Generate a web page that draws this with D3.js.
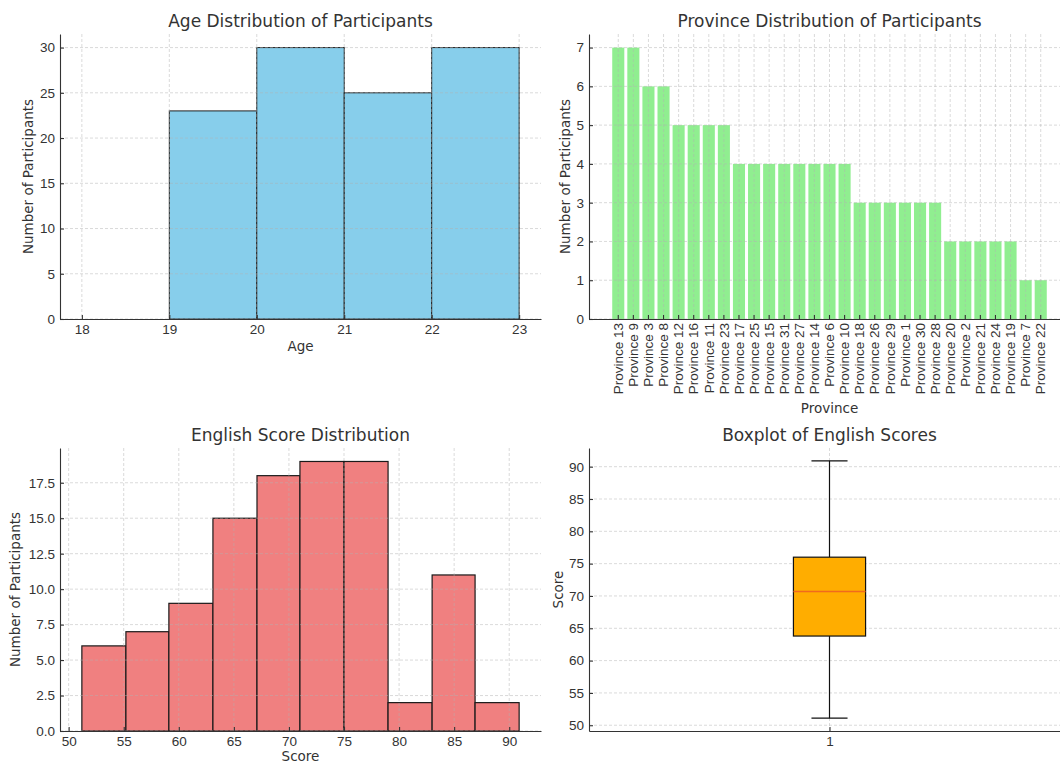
<!DOCTYPE html>
<html>
<head>
<meta charset="utf-8">
<script src="https://cdn.jsdelivr.net/npm/d3@7"></script>
<style>
body { margin: 0; background: #fff; }
svg { display: block; }
.grid line { stroke: #b0b0b0; stroke-opacity: 0.6; stroke-dasharray: 3,2; stroke-width: 0.8; }
.axis path, .axis line { stroke: #333; stroke-width: 1.1; }
.axis text { fill: #333; }
.title { font-size: 17px; fill: #333; text-anchor: middle; }
.label { font-size: 13.5px; fill: #333; text-anchor: middle; }
</style>
</head>
<body>
<div id="chart"></div>
<script>
// age histogram
var ageEdges = [18, 19, 20, 21, 22, 23];
var ageCounts = [0, 23, 30, 25, 30];
var ageTicks = [18, 19, 20, 21, 22, 23];
var ageYTicks = [0, 5, 10, 15, 20, 25, 30];

// province bars
var provinces = ["Province 13", "Province 9", "Province 3", "Province 8", "Province 12",
	"Province 16", "Province 11", "Province 23", "Province 17", "Province 25", "Province 15",
	"Province 31", "Province 27", "Province 14", "Province 6", "Province 10", "Province 18",
	"Province 26", "Province 29", "Province 1", "Province 30", "Province 28", "Province 20",
	"Province 2", "Province 21", "Province 24", "Province 19", "Province 7", "Province 22"];
var provinceCounts = [7, 7, 6, 6, 5, 5, 5, 5, 4, 4, 4, 4, 4, 4, 4, 4, 3, 3, 3, 3, 3, 3, 2, 2, 2, 2, 2, 1, 1];
var provinceYTicks = [0, 1, 2, 3, 4, 5, 6, 7];

// english score histogram
var scoreEdges = [51.2, 55.2, 59.1, 63.1, 67.1, 71.0, 75.0, 79.0, 83.0, 86.9, 90.9];
var scoreCounts = [6, 7, 9, 15, 18, 19, 19, 2, 11, 2];
var scoreTicks = [50, 55, 60, 65, 70, 75, 80, 85, 90];
var scoreYTicks = [0, 2.5, 5, 7.5, 10, 12.5, 15, 17.5];

// boxplot: low whisker, q1, median, q3, high whisker
var boxStats = [51.1, 63.8, 70.7, 76.0, 90.9];
var boxYTicks = [50, 55, 60, 65, 70, 75, 80, 85, 90];

var width = 1060;
var height = 764;
var tickFont = 13.5;

var svg = d3.select("#chart").append("svg")
	.attr("width", width)
	.attr("height", height)
	.style("font-family", "'DejaVu Sans', sans-serif");

svg.append("rect").attr("width", width).attr("height", height).attr("fill", "#fff");

// matplotlib style 5% margins
function pad(lo, hi) {
	var m = (hi - lo) * 0.05;
	return [lo - m, hi + m];
}

// one panel: box = [left, top, right, bottom]
function panel(box, opt) {
	var g = svg.append("g");
	var x = opt.x.range([box[0], box[2]]);
	var y = d3.scaleLinear().domain(opt.yDomain).range([box[3], box[1]]);

	opt.draw(g, x, y);

	// grid sits on top of the patches, as in matplotlib
	var grid = g.append("g").attr("class", "grid");
	grid.selectAll(".gx")
		.data(opt.xGrid)
		.enter().append("line")
			.attr("x1", function(d) { return x(d); })
			.attr("x2", function(d) { return x(d); })
			.attr("y1", box[1])
			.attr("y2", box[3]);
	grid.selectAll(".gy")
		.data(opt.yTicks)
		.enter().append("line")
			.attr("x1", box[0])
			.attr("x2", box[2])
			.attr("y1", function(d) { return y(d); })
			.attr("y2", function(d) { return y(d); });

	if (opt.drawTop) opt.drawTop(g, x, y);

	var xAxis = opt.xAxis(x).tickSizeInner(-4).tickSizeOuter(0).tickPadding(5);
	var gx = g.append("g")
		.attr("class", "axis")
		.attr("transform", "translate(0," + box[3] + ")")
		.call(xAxis);
	gx.selectAll("text").attr("font-size", tickFont);
	if (opt.rotate) {
		gx.selectAll("text")
			.attr("y", 0)
			.attr("x", -4)
			.attr("dy", "0.35em")
			.attr("transform", "rotate(-90)")
			.style("text-anchor", "end");
	}

	var gy = g.append("g")
		.attr("class", "axis")
		.attr("transform", "translate(" + box[0] + ",0)")
		.call(d3.axisLeft(y).tickValues(opt.yTicks).tickFormat(opt.yFormat)
			.tickSizeInner(-4).tickSizeOuter(0).tickPadding(5));
	gy.selectAll("text").attr("font-size", tickFont);

	var cx = (box[0] + box[2]) / 2;
	g.append("text")
		.attr("class", "title")
		.attr("x", cx)
		.attr("y", box[1] - 7)
		.text(opt.title);

	g.append("text")
		.attr("class", "label")
		.attr("x", cx)
		.attr("y", opt.xLabelY)
		.attr("dy", "0.35em")
		.text(opt.xLabel);

	g.append("text")
		.attr("class", "label")
		.attr("transform", "translate(" + opt.yLabelX + "," + ((box[1] + box[3]) / 2) + ") rotate(-90)")
		.attr("dy", "0.35em")
		.text(opt.yLabel);
}

// - Age Distribution -
var ageBins = ageCounts.map(function(c, i) { return { x0: ageEdges[i], x1: ageEdges[i + 1], n: c }; });

panel([60, 34, 541, 319], {
	x: d3.scaleLinear().domain(pad(d3.min(ageEdges), d3.max(ageEdges))),
	yDomain: [0, d3.max(ageCounts) * 1.05],
	xGrid: ageTicks,
	yTicks: ageYTicks,
	yFormat: d3.format("d"),
	xAxis: function(x) { return d3.axisBottom(x).tickValues(ageTicks).tickFormat(d3.format("d")); },
	title: "Age Distribution of Participants",
	xLabel: "Age",
	xLabelY: 346,
	yLabel: "Number of Participants",
	yLabelX: 28,
	draw: function(g, x, y) {
		g.selectAll(".age-bar")
			.data(ageBins)
			.enter().append("rect")
				.attr("x", function(d) { return x(d.x0); })
				.attr("y", function(d) { return y(d.n); })
				.attr("width", function(d) { return x(d.x1) - x(d.x0); })
				.attr("height", function(d) { return y(0) - y(d.n); })
				.attr("fill", "#87ceeb")
				.attr("stroke", "#222")
				.attr("stroke-width", 1);
	}
});

// - Province Distribution -
// band scale padded like matplotlib: bar width 0.8, 5% margins
var provBand = d3.scaleBand().domain(provinces).paddingInner(0.2).paddingOuter(0.1 + 1.44);

panel([589, 34, 1070, 319], {
	x: provBand,
	yDomain: [0, d3.max(provinceCounts) * 1.05],
	xGrid: [],
	yTicks: provinceYTicks,
	yFormat: d3.format("d"),
	xAxis: function(x) { return d3.axisBottom(x); },
	rotate: true,
	title: "Province Distribution of Participants",
	xLabel: "Province",
	xLabelY: 408,
	yLabel: "Number of Participants",
	yLabelX: 565,
	draw: function(g, x, y) {
		g.selectAll(".prov-bar")
			.data(provinces)
			.enter().append("rect")
				.attr("x", function(d) { return x(d); })
				.attr("y", function(d, i) { return y(provinceCounts[i]); })
				.attr("width", x.bandwidth())
				.attr("height", function(d, i) { return y(0) - y(provinceCounts[i]); })
				.attr("fill", "#90ee90");
	},
	drawTop: function(g, x, y) {
		g.select(".grid").selectAll(".gp")
			.data(provinces)
			.enter().append("line")
				.attr("x1", function(d) { return x(d) + x.bandwidth() / 2; })
				.attr("x2", function(d) { return x(d) + x.bandwidth() / 2; })
				.attr("y1", 34)
				.attr("y2", 319);
	}
});

// - English Score Distribution -
var scoreBins = scoreCounts.map(function(c, i) { return { x0: scoreEdges[i], x1: scoreEdges[i + 1], n: c }; });

panel([60, 448, 541, 731], {
	x: d3.scaleLinear().domain(pad(d3.min(scoreEdges), d3.max(scoreEdges))),
	yDomain: [0, d3.max(scoreCounts) * 1.05],
	xGrid: scoreTicks,
	yTicks: scoreYTicks,
	yFormat: d3.format(".1f"),
	xAxis: function(x) { return d3.axisBottom(x).tickValues(scoreTicks).tickFormat(d3.format("d")); },
	title: "English Score Distribution",
	xLabel: "Score",
	xLabelY: 756,
	yLabel: "Number of Participants",
	yLabelX: 15,
	draw: function(g, x, y) {
		g.selectAll(".score-bar")
			.data(scoreBins)
			.enter().append("rect")
				.attr("x", function(d) { return x(d.x0); })
				.attr("y", function(d) { return y(d.n); })
				.attr("width", function(d) { return x(d.x1) - x(d.x0); })
				.attr("height", function(d) { return y(0) - y(d.n); })
				.attr("fill", "#f08080")
				.attr("stroke", "#1a1a1a")
				.attr("stroke-width", 1.2);
	}
});

// - Boxplot of English Scores -
panel([589, 448, 1070, 731], {
	x: d3.scaleLinear().domain([0.5, 1.5]),
	yDomain: pad(boxStats[0], boxStats[4]),
	xGrid: [1],
	yTicks: boxYTicks,
	yFormat: d3.format("d"),
	xAxis: function(x) { return d3.axisBottom(x).tickValues([1]).tickFormat(d3.format("d")); },
	title: "Boxplot of English Scores",
	xLabel: "",
	xLabelY: 756,
	yLabel: "Score",
	yLabelX: 558,
	draw: function() {},
	drawTop: function(g, x, y) {
		var b = g.append("g").attr("stroke", "#111").attr("stroke-width", 1.2);
		// whiskers
		b.append("line").attr("x1", x(1)).attr("x2", x(1)).attr("y1", y(boxStats[0])).attr("y2", y(boxStats[1]));
		b.append("line").attr("x1", x(1)).attr("x2", x(1)).attr("y1", y(boxStats[3])).attr("y2", y(boxStats[4]));
		// caps
		b.append("line").attr("x1", x(1 - 0.0375)).attr("x2", x(1 + 0.0375)).attr("y1", y(boxStats[0])).attr("y2", y(boxStats[0]));
		b.append("line").attr("x1", x(1 - 0.0375)).attr("x2", x(1 + 0.0375)).attr("y1", y(boxStats[4])).attr("y2", y(boxStats[4]));
		// box
		b.append("rect")
			.attr("x", x(1 - 0.075))
			.attr("y", y(boxStats[3]))
			.attr("width", x(1 + 0.075) - x(1 - 0.075))
			.attr("height", y(boxStats[1]) - y(boxStats[3]))
			.attr("fill", "#ffad00");
		// median
		g.append("line")
			.attr("x1", x(1 - 0.075)).attr("x2", x(1 + 0.075))
			.attr("y1", y(boxStats[2])).attr("y2", y(boxStats[2]))
			.attr("stroke", "#f06a1e")
			.attr("stroke-width", 1.5);
	}
});
</script>
</body>
</html>
